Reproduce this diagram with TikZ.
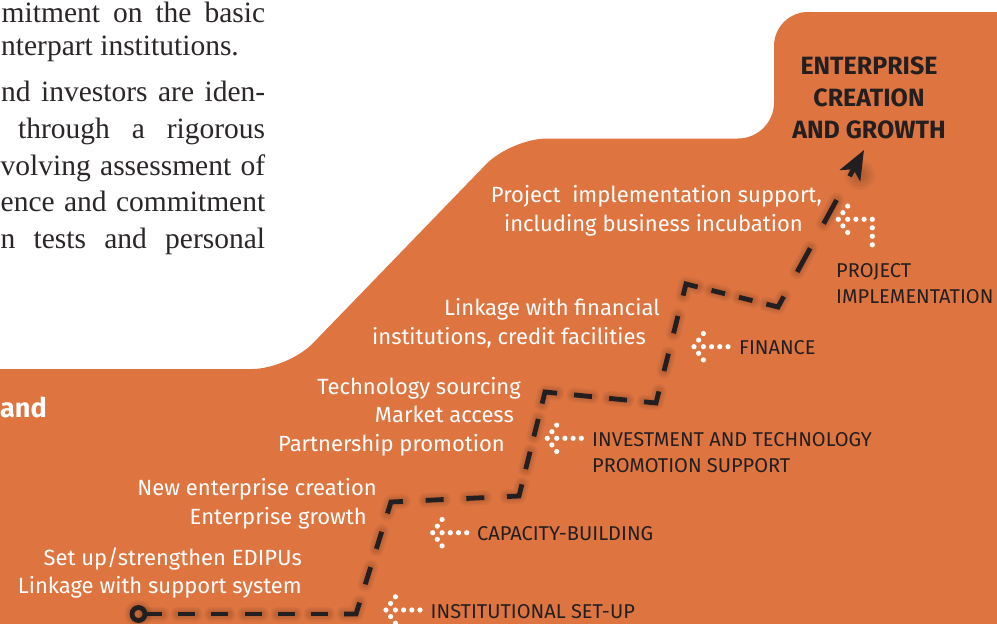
\documentclass[tikz,border=0pt]{standalone}
\usepackage{fontspec}
\setmainfont{Liberation Serif}
\newfontfamily\fira{Fira Sans}
\usetikzlibrary{arrows.meta,calc}
\definecolor{bgorange}{HTML}{DE7541}
\definecolor{ink}{HTML}{231F20}
\definecolor{serifink}{HTML}{2B2728}
\tikzset{
  whitelbl/.style={inner sep=0pt, text=white, anchor=base east, font=\fira\fontsize{22}{26}\selectfont},
  darklbl/.style={inner sep=0pt, text=ink, anchor=base west, font=\fira\fontsize{20}{24}\selectfont},
  titlelbl/.style={inner sep=0pt, text=ink, anchor=base, font=\fira\bfseries\fontsize{25}{30}\selectfont},
  serifline/.style={inner sep=0pt, text=serifink, anchor=base west, font=\fontsize{29.5}{36}\selectfont},
  routeline/.style={draw=ink, line width=4.8pt},
  shadowline/.style={draw=black, opacity=0.04, line cap=round, line join=round},
  dotarrow/.pic={
    \foreach \px/\py in {0/0, 4.6/-6.6, 9.4/-13.2, 4.6/6.6, 9.4/13.2, 9.4/0, 17.6/0, 25.8/0, 34/0}
      \fill[white] (\px,\py) circle[radius=2.6pt];
  },
  dotarrowbent/.pic={
    \foreach \px/\py in {0/0, 4.6/-6.6, 9.4/-13.2, 4.6/6.6, 9.4/13.2, 9.4/0, 17.6/0, 25.8/0, 34/0, 34/8.5, 34/17, 34/25.5}
      \fill[white] (\px,\py) circle[radius=2.6pt];
  }
}
\newcommand\drawroute{%
  \draw (P0) circle[radius=6.5pt];
  \draw[dash pattern=on 17pt off 16.2pt] ($(P0)!6.5pt!(C1)$) -- ($(C1)!28.2pt!(P0)$);
  \draw ($(C1)!12pt!(P0)$) -- (C1) -- ($(C1)!12pt!(C2)$);
  \draw[dash pattern=on 18pt off 19.1pt] ($(C1)!31.1pt!(C2)$) -- ($(C2)!31.1pt!(C1)$);
  \draw ($(C2)!12pt!(C1)$) -- (C2) -- ($(C2)!12pt!(C3)$);
  \draw[dash pattern=on 18pt off 22.7pt] ($(C2)!34.7pt!(C3)$) -- ($(C3)!34.7pt!(C2)$);
  \draw ($(C3)!12pt!(C2)$) -- (C3) -- ($(C3)!12pt!(C4)$);
  \draw[dash pattern=on 18pt off 15.7pt] ($(C3)!27.7pt!(C4)$) -- ($(C4)!27.7pt!(C3)$);
  \draw ($(C4)!12pt!(C3)$) -- (C4) -- ($(C4)!12pt!(C5)$);
  \draw[dash pattern=on 18pt off 17.2pt] ($(C4)!29.2pt!(C5)$) -- ($(C5)!29.2pt!(C4)$);
  \draw ($(C5)!12pt!(C4)$) -- (C5) -- ($(C5)!12pt!(C6)$);
  \draw[dash pattern=on 18pt off 20.9pt] ($(C5)!32.9pt!(C6)$) -- ($(C6)!32.9pt!(C5)$);
  \draw ($(C6)!12pt!(C5)$) -- (C6) -- ($(C6)!12pt!(C7)$);
  \draw[dash pattern=on 14pt off 14.3pt] ($(C6)!26.3pt!(C7)$) -- ($(C7)!26.3pt!(C6)$);
  \draw ($(C7)!12pt!(C6)$) -- (C7) -- ($(C7)!12pt!(T)$);
  \draw[dash pattern=on 27pt off 28pt] ($(C7)!40pt!(T)$) -- ($(C7)!122pt!(T)$);
}
\begin{document}
\begin{tikzpicture}[x=1pt,y=-1pt]
\useasboundingbox (0,0) rectangle (997,624);
\clip (0,0) rectangle (997,624);
\fill[white] (0,0) rectangle (997,624);
% orange stepped background
\fill[bgorange] (-40,369) [rounded corners=36pt] -- (288,369) -- (511,138.5) -- (774,138.5)
  [rounded corners=34pt] -- (774,12) [rounded corners=27pt] -- (1040,12) -- (1040,700) -- (-40,700) -- cycle;

% serif paragraph fragment
\node[serifline] (s1) at (1.5,22) {\makebox[263.5pt][s]{mitment on the basic}};
\node[serifline] (s2) at (1,55.5) {nterpart institutions.};
\node[serifline] (s3) at (1,101) {\makebox[264pt][s]{nd investors are iden-}};
\node[serifline] (s4) at (18,138) {\makebox[247pt][s]{through a rigorous}};
\node[serifline] (s5) at (0.5,175) {\makebox[264.5pt][s]{volving assessment of}};
\node[serifline] (s6) at (0.5,211) {\makebox[264.5pt][s]{ence and commitment}};
\node[serifline] (s7) at (0.5,248) {\makebox[264.5pt][s]{n tests and personal}};

\node[inner sep=0pt, anchor=base west, text=white, font=\fira\bfseries\fontsize{27}{30}\selectfont] (andtxt) at (0,417) {and};

% route coordinates
\coordinate (P0) at (138.5,614);
\coordinate (C1) at (356,614);
\coordinate (C2) at (391,502);
\coordinate (C3) at (519,496);
\coordinate (C4) at (545,392);
\coordinate (C5) at (656,403);
\coordinate (C6) at (686,284);
\coordinate (C7) at (778,307);
\coordinate (T) at (864,150);

% soft shadows
\foreach \lw in {15,12,9,6}{
  \begin{scope}[shadowline, shift={(4,9)}, line width=\lw pt]\drawroute\end{scope}
}
\foreach \rr in {15,12,9,6}
  \fill[black, opacity=0.045] ($(T)!17pt!(C7)+(4,10)$) circle[radius=\rr pt];

% route
\begin{scope}[routeline]\drawroute\end{scope}
\draw[routeline, -{Stealth[length=29pt, width=23pt, inset=7pt]}] ($(T)!30pt!(C7)$) -- (T);

% title
\node[titlelbl] (t1) at (869,74) {ENTERPRISE};
\node[titlelbl] (t2) at (869,106) {CREATION};
\node[titlelbl] (t3) at (869,138) {AND GROWTH};

% white activity labels
\node[whitelbl] (w1) at (822,202) {Project\ \ implementation support,};
\node[whitelbl] (w2) at (803,231) {including business incubation};
\node[whitelbl] (w3) at (660,315.5) {Linkage with financial};
\node[whitelbl] (w4) at (646,344) {institutions, credit facilities};
\node[whitelbl] (w5) at (521,394) {Technology sourcing};
\node[whitelbl] (w6) at (514,422.5) {Market access};
\node[whitelbl] (w7) at (505,451) {Partnership promotion};
\node[whitelbl] (w8) at (377,495.5) {New enterprise creation};
\node[whitelbl] (w9) at (367,524) {Enterprise growth};
\node[whitelbl] (w10) at (302,565) {Set up/strengthen EDIPUs};
\node[whitelbl] (w11) at (302,593) {Linkage with support system};

% stage labels with dotted arrows
\pic (icproj) at (838.3,219.3) {dotarrowbent};
\node[darklbl] (d1) at (836,277.5) {PROJECT};
\node[darklbl] (d2) at (836,303) {IMPLEMENTATION};
\pic (icfin) at (694,346.7) {dotarrow};
\node[darklbl] (d3) at (739,354) {FINANCE};
\pic (icinv) at (547.3,438.3) {dotarrow};
\node[darklbl] (d4) at (592,446) {INVESTMENT AND TECHNOLOGY};
\node[darklbl] (d5) at (592,472) {PROMOTION SUPPORT};
\pic (iccap) at (432.7,532.7) {dotarrow};
\node[darklbl] (d6) at (477,540.5) {CAPACITY-BUILDING};
\pic (icinst) at (386,610) {dotarrow};
\node[darklbl] (d7) at (430.5,618) {INSTITUTIONAL SET-UP};
\end{tikzpicture}
\end{document}
